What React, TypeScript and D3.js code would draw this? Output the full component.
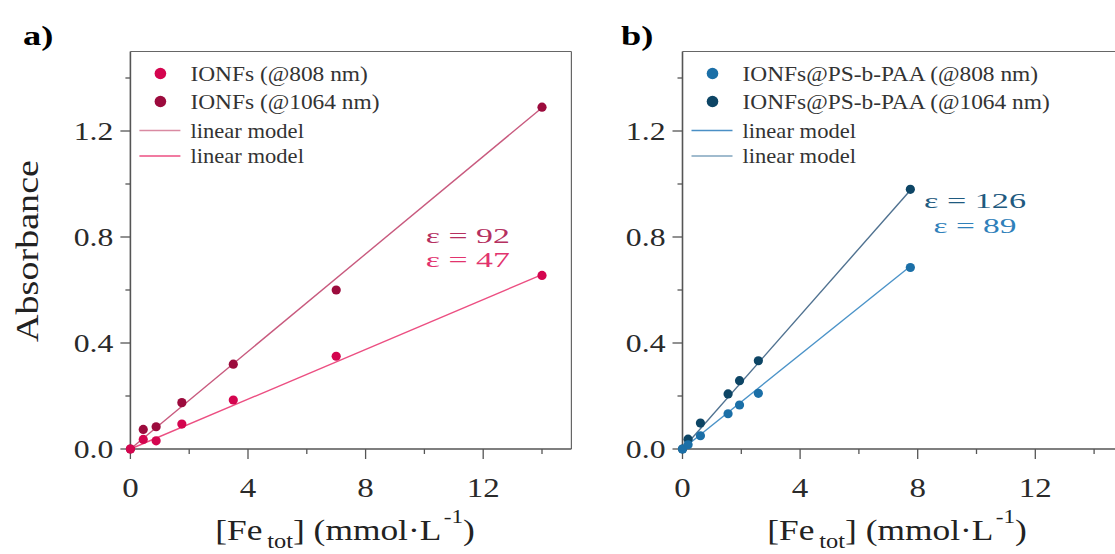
import React from "react";
import * as d3 from "d3";

const W = 1115;
const H = 554;
const FONT = "'Liberation Serif', 'Times New Roman', serif";

// panel a: IONFs, [Fe] in mmol/L
const concA = [0, 0.4375, 0.875, 1.75, 3.5, 7, 14];
const absA808 = [0, 0.036, 0.031, 0.094, 0.185, 0.35, 0.655];
const absA1064 = [0, 0.074, 0.084, 0.175, 0.32, 0.6, 1.29];
const epsA = [92, 47]; // 1064 nm, 808 nm

// panel b: IONFs@PS-b-PAA
const concB = [0, 0.19, 0.61, 1.55, 1.94, 2.58, 7.75];
const absB808 = [0, 0.016, 0.05, 0.133, 0.166, 0.21, 0.685];
const absB1064 = [0, 0.037, 0.098, 0.208, 0.258, 0.333, 0.98];
const epsB = [126, 89]; // 1064 nm, 808 nm

const xTicks = [0, 4, 8, 12];
const xMinor = [2, 6, 10, 14];
const yTicks = [0, 0.4, 0.8, 1.2];
const yMinor = [0.2, 0.6, 1.0, 1.4];

const palA = {
  p808: "#d4054f",
  p1064: "#9c0b3d",
  l808: "#ec4f82",
  l1064: "#c85a7e",
  legLines: ["#d98aa2", "#ec4f82"],
  annot: ["#b5305f", "#e2336e"],
};
const palB = {
  p808: "#1b6fa7",
  p1064: "#0d4565",
  l808: "#4b93c8",
  l1064: "#4f7190",
  legLines: ["#4a8fc5", "#80a4be"],
  annot: ["#1f5a80", "#2f80ba"],
};

function T({ x, y, sx = 1, anchor = "start", size, fill = "#222", weight = "normal", len, children }: any) {
  return (
    <text
      transform={`translate(${x},${y}) scale(${sx},1)`}
      textAnchor={anchor}
      fontSize={size}
      fill={fill}
      fontWeight={weight}
      fontFamily={FONT}
      textLength={len}
      lengthAdjust={len ? "spacingAndGlyphs" : undefined}
    >
      {children}
    </text>
  );
}

function Panel({ left, letter, letterX, conc, s808, s1064, eps, names, pal, showYLabel, annot }: any) {
  const x = d3.scaleLinear().domain([0, 15]).range([left, left + 441]);
  const y = d3.scaleLinear().domain([0, 1.5]).range([449, 51.5]);
  const xEnd = d3.max(conc) as number;
  const fit = (slope: number) =>
    d3
      .line<number>()
      .x((c) => x(c))
      .y((c) => y(slope * c))([0, xEnd]) as string;

  const legRows = [73.5, 101.5];
  const legLineRows = [130.5, 156];

  return (
    <g>
      <T x={letterX} y={45} sx={1.3} size={28} weight="bold" fill="#000">
        {letter}
      </T>

      {/* frame */}
      <line x1={x(0)} x2={x(15)} y1={y(1.5)} y2={y(1.5)} stroke="#666" strokeWidth={1.2} />
      <line x1={x(15)} x2={x(15)} y1={y(1.5)} y2={y(0)} stroke="#666" strokeWidth={1.2} />
      <line x1={x(0)} x2={x(0)} y1={y(1.5)} y2={y(0)} stroke="#555" strokeWidth={1.6} />
      <line x1={x(0)} x2={x(15)} y1={y(0)} y2={y(0)} stroke="#555" strokeWidth={1.6} />

      {yTicks.map((t) => (
        <g key={"y" + t}>
          <line x1={x(0) - 10} x2={x(0)} y1={y(t)} y2={y(t)} stroke="#555" strokeWidth={1.3} />
          <T x={x(0) - 17} y={y(t) + 9} sx={1.22} anchor="end" size={26} fill="#2a2a2a">
            {t.toFixed(1)}
          </T>
        </g>
      ))}
      {yMinor.map((t) => (
        <line key={"ym" + t} x1={x(0) - 5} x2={x(0)} y1={y(t)} y2={y(t)} stroke="#555" strokeWidth={1.3} />
      ))}
      {xTicks.map((t) => (
        <g key={"x" + t}>
          <line x1={x(t)} x2={x(t)} y1={y(0)} y2={y(0) + 10} stroke="#555" strokeWidth={1.3} />
          <T x={x(t)} y={497} sx={1.22} anchor="middle" size={27} fill="#2a2a2a">
            {t}
          </T>
        </g>
      ))}
      {xMinor.map((t) => (
        <line key={"xm" + t} x1={x(t)} x2={x(t)} y1={y(0)} y2={y(0) + 5} stroke="#555" strokeWidth={1.3} />
      ))}

      {/* axis titles */}
      <g transform={`translate(${x(7.3)},540) scale(1.22,1)`}>
        <text textAnchor="middle" fontFamily={FONT} fontSize={29} fill="#222">
          [Fe
          <tspan fontSize={20} dx={4} dy={8}>tot</tspan>
          <tspan dy={-8}>] (mmol·L</tspan>
          <tspan fontSize={19} dx={2} dy={-17}>-1</tspan>
          <tspan dy={17}>)</tspan>
        </text>
      </g>
      {showYLabel && (
        <text
          transform={`translate(38,251) rotate(-90)`}
          textAnchor="middle"
          fontFamily={FONT}
          fontSize={32}
          fill="#222"
          textLength={182}
          lengthAdjust="spacingAndGlyphs"
        >
          Absorbance
        </text>
      )}

      {/* fits */}
      <path d={fit(eps[0] / 1000)} stroke={pal.l1064} strokeWidth={1.4} fill="none" />
      <path d={fit(eps[1] / 1000)} stroke={pal.l808} strokeWidth={1.4} fill="none" />

      {conc.map((c: number, i: number) => (
        <circle key={"b" + i} cx={x(c)} cy={y(s1064[i])} r={4.6} fill={pal.p1064} />
      ))}
      {conc.map((c: number, i: number) => (
        <circle key={"a" + i} cx={x(c)} cy={y(s808[i])} r={4.6} fill={pal.p808} />
      ))}

      {/* legend */}
      <circle cx={x(0) + 30} cy={legRows[0]} r={5.8} fill={pal.p808} />
      <circle cx={x(0) + 30} cy={legRows[1]} r={5.8} fill={pal.p1064} />
      {legLineRows.map((ly, i) => (
        <line key={"ll" + i} x1={x(0) + 9} x2={x(0) + 50} y1={ly} y2={ly} stroke={pal.legLines[i]} strokeWidth={1.6} />
      ))}
      <T x={x(0) + 60} y={legRows[0] + 7.5} sx={1.17} size={20} fill="#333">{names[0]}</T>
      <T x={x(0) + 60} y={legRows[1] + 7.5} sx={1.17} size={20} fill="#333">{names[1]}</T>
      <T x={x(0) + 60} y={legLineRows[0] + 7} sx={1.13} size={20} fill="#333">linear model</T>
      <T x={x(0) + 60} y={legLineRows[1] + 7} sx={1.13} size={20} fill="#333">linear model</T>

      {/* epsilon annotations */}
      {eps.map((e: number, i: number) => (
        <T
          key={"e" + i}
          x={x(annot.x)}
          y={y(annot.ys[i])}
          anchor={annot.anchor}
          size={22}
          fill={pal.annot[i]}
          len={annot.lens[i]}
        >
          {`ε = ${e}`}
        </T>
      ))}
    </g>
  );
}

export default function App() {
  return (
    <svg
      width={W}
      height={H}
      style={{ position: "absolute", left: 0, top: 0, background: "#fff" }}
    >
      <rect width={W} height={H} fill="#fff" />
      <Panel
        left={130.4}
        letter="a)"
        letterX={23}
        conc={concA}
        s808={absA808}
        s1064={absA1064}
        eps={epsA}
        names={["IONFs (@808 nm)", "IONFs (@1064 nm)"]}
        pal={palA}
        showYLabel={true}
        annot={{ x: 10.05, anchor: "start", ys: [0.778, 0.688], lens: [84, 84] }}
      />
      <Panel
        left={682.5}
        letter="b)"
        letterX={621}
        conc={concB}
        s808={absB808}
        s1064={absB1064}
        eps={epsB}
        names={["IONFs@PS-b-PAA (@808 nm)", "IONFs@PS-b-PAA (@1064 nm)"]}
        pal={palB}
        showYLabel={false}
        annot={{ x: 9.95, anchor: "middle", ys: [0.91, 0.816], lens: [102, 83] }}
      />
    </svg>
  );
}
